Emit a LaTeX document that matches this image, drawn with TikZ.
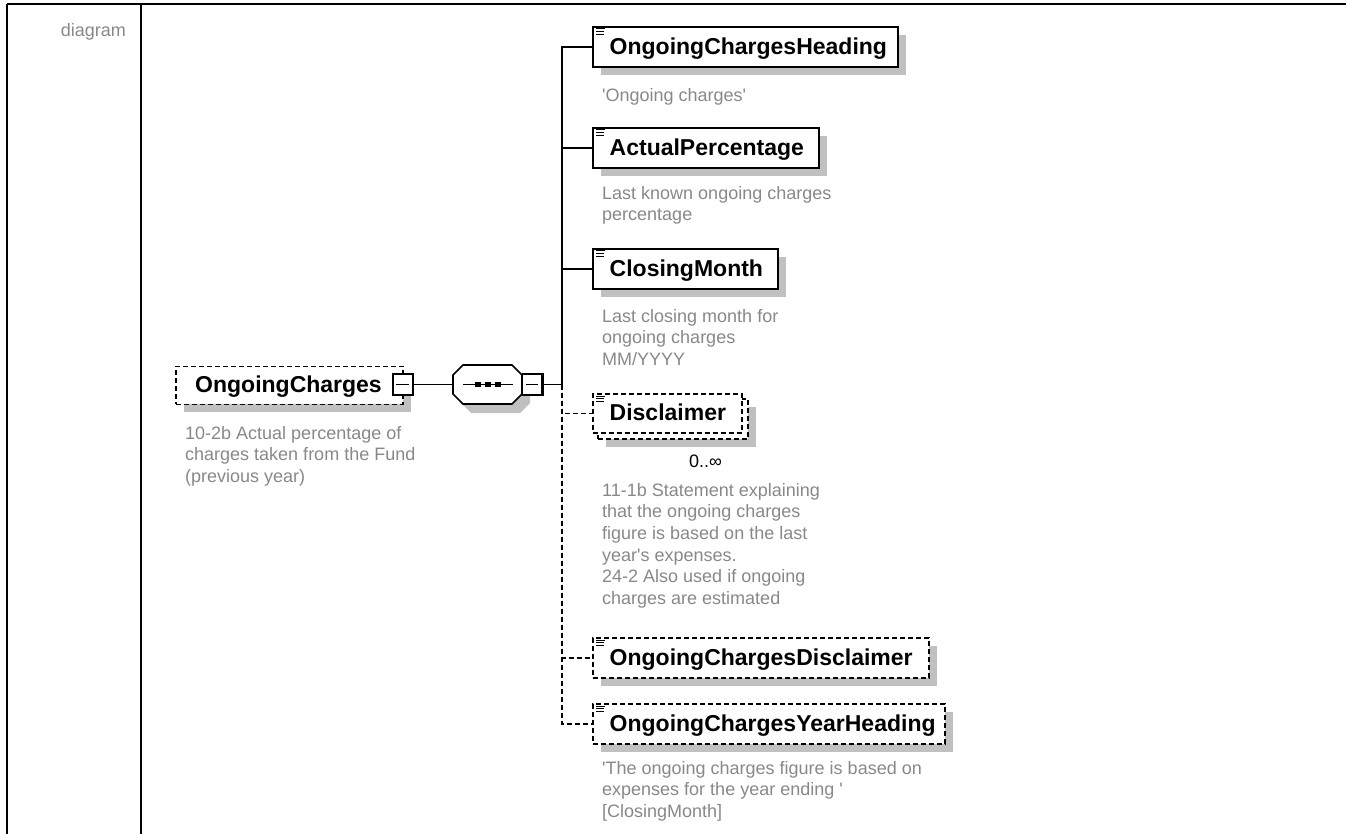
\documentclass[tikz,border=0pt]{standalone}
\usepackage{fontspec}
\setmainfont{Liberation Sans}
\usetikzlibrary{shadows,calc}
\definecolor{shgray}{RGB}{192,192,192}
\definecolor{descgray}{RGB}{136,136,136}
\newcommand\lblfont{\fontsize{23}{27}\selectfont\bfseries}
\newcommand\dscfont{\fontsize{18}{21.6}\selectfont}
\newcommand\simpleicon[1]{%
  \draw[line width=1pt] ($(#1.north west)+(4,3)$) -- ++(8.5,0)
                        ($(#1.north west)+(4,5.7)$) -- ++(8,0)
                        ($(#1.north west)+(4,8.4)$) -- ++(8,0);}
\newcommand\minusdeco[1]{%
  \draw[line width=2.6pt] ($(#1.north east)+(-0.7,0)$) -- ($(#1.south east)+(-0.7,-0.7)$) -- ($(#1.south west)+(0,-0.7)$);
  \draw[line width=1.3pt] ($(#1.west)+(4,0)$) -- ($(#1.east)+(-5,0)$);}
\tikzset{
  box/.style={draw=black, line width=1.8pt, fill=white, rectangle, anchor=north west, inner sep=0pt},
  shd/.style={general shadow={fill=shgray, shadow xshift=8pt, shadow yshift=-8pt}},
  dsh/.style={dash pattern=on 5pt off 3pt},
  lbl/.style={font=\lblfont, inner sep=0pt, anchor=base west, text=black},
  desc/.style={font=\dscfont, inner sep=0pt, anchor=north west, align=left, text=descgray},
  conn/.style={line width=1.6pt, draw=black},
  minusbox/.style={draw=black, fill=white, line width=1.2pt, minimum width=20pt, minimum height=21pt, inner sep=0pt},
}
\begin{document}
\begin{tikzpicture}[x=1pt,y=-1pt]
\useasboundingbox (0,0) rectangle (1346,834);
% table frame
\draw[line width=2.2pt] (7,4) -- (1346,4);
\draw[line width=2pt] (7,4) -- (7,834);
\draw[line width=2pt] (140.5,4) -- (140.5,834);
\node[font=\dscfont, text=descgray, inner sep=0pt, anchor=base east] (diag) at (126,37) {diagram};

% root element
\node[box, shd, dsh, minimum width=227pt, minimum height=38pt] (oc) at (175,365.5) {};
\node[lbl] (ocL) at ($(oc.west)+(20,7.5)$) {OngoingCharges};
\node[minusbox] (ocm) at (403,384.5) {};
\minusdeco{ocm}
\node[desc] (ocD) at (185,424) {\strut 10-2b Actual percentage of\\\strut charges taken from the Fund\\\strut (previous year)};

% sequence compositor
\node[inner sep=0pt, minimum width=69pt, minimum height=39pt] (seq) at (487.5,384.5) {};
\fill[shgray] (471,374) -- (520,374) -- (530,384) -- (530,403) -- (520,413) -- (471,413) -- (461,403) -- (461,384) -- cycle;
\filldraw[fill=white, draw=black, line width=1.6pt] (463,365) -- (512,365) -- (522,375) -- (522,394) -- (512,404) -- (463,404) -- (453,394) -- (453,375) -- cycle;
\draw[line width=1.3pt] (463,384.5) -- (513,384.5);
\foreach \sx in {478,488,498} \fill (\sx-2.6,381.9) rectangle (\sx+2.6,387.1);
\node[minusbox] (seqm) at (532.5,384.5) {};
\minusdeco{seqm}
\coordinate (sp) at (562,384.5);

% children
\node[box, shd, minimum width=305pt, minimum height=40pt] (heading) at (592,26) {};
\simpleicon{heading}
\node[lbl] (headingL) at ($(heading.west)+(17.5,7.5)$) {OngoingChargesHeading};
\node[desc] (headingD) at (602,86) {\strut\textquotesingle Ongoing charges\textquotesingle};

\node[box, shd, minimum width=226pt, minimum height=40pt] (actual) at (592,127) {};
\simpleicon{actual}
\node[lbl] (actualL) at ($(actual.west)+(17.5,7.5)$) {ActualPercentage};
\node[desc] (actualD) at (602,184) {\strut Last known ongoing charges\\\strut percentage};

\node[box, shd, minimum width=185pt, minimum height=40pt] (closing) at (592,248) {};
\simpleicon{closing}
\node[lbl] (closingL) at ($(closing.west)+(17.5,7.5)$) {ClosingMonth};
\node[desc] (closingD) at (602,307) {\strut Last closing month for\\\strut ongoing charges\\\strut MM/YYYY};

\node[box, shd, dsh, minimum width=150pt, minimum height=40pt] (discback) at (597,398) {};
\node[box, dsh, minimum width=149pt, minimum height=39pt] (disc) at (592,393) {};
\simpleicon{disc}
\node[lbl] (discL) at ($(disc.west)+(17.5,7.5)$) {Disclaimer};
\node[font=\dscfont, inner sep=0pt, anchor=base west] (discM) at (689,467) {0..∞};
\node[desc] (discD) at (602,481) {\strut 11-1b Statement explaining\\\strut that the ongoing charges\\\strut figure is based on the last\\\strut year\textquotesingle s expenses.\\\strut 24-2 Also used if ongoing\\\strut charges are estimated};

\node[box, shd, dsh, minimum width=336pt, minimum height=40pt] (ocdisc) at (592,637) {};
\simpleicon{ocdisc}
\node[lbl] (ocdiscL) at ($(ocdisc.west)+(17.5,7.5)$) {OngoingChargesDisclaimer};

\node[box, shd, dsh, minimum width=352pt, minimum height=40pt] (year) at (592,703) {};
\simpleicon{year}
\node[lbl] (yearL) at ($(year.west)+(17.5,7.5)$) {OngoingChargesYearHeading};
\node[desc] (yearD) at (602,759) {\strut\textquotesingle The ongoing charges figure is based on\\\strut expenses for the year ending \textquotesingle\\\strut [ClosingMonth]};

% connectors
\draw[conn] (ocm.east) -- (seq.west);
\draw[conn] (seqm.east) -- (sp);
\draw[conn] (sp) |- (heading.west);
\draw[conn] (sp) |- (actual.west);
\draw[conn] (sp) |- (closing.west);
\draw[conn, dsh] (sp) |- (disc.west);
\draw[conn, dsh] (sp) |- (ocdisc.west);
\draw[conn, dsh] (sp) |- (year.west);
\end{tikzpicture}
\end{document}
